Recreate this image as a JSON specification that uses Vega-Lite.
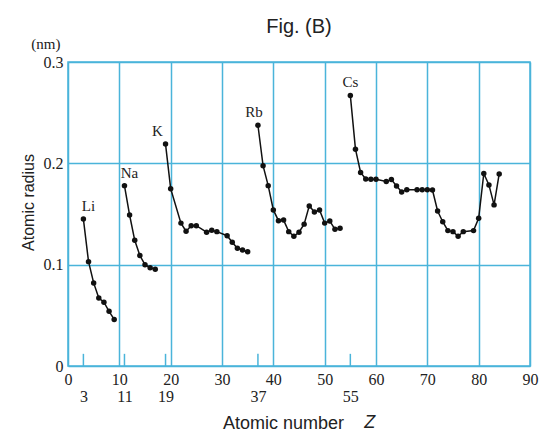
{
  "$schema": "https://vega.github.io/schema/vega-lite/v6.json",
  "autosize": "none",
  "width": 462,
  "height": 304,
  "padding": {"left": 68, "top": 62, "right": 12, "bottom": 68},
  "background": "white",
  "title": {"text": "Fig. (B)", "font": "Liberation Sans", "fontSize": 20, "fontWeight": "normal", "color": "#222", "frame": "group", "anchor": "middle", "offset": 0},
  "config": {"view": {"stroke": "#4ab4da", "strokeWidth": 1.5}},
  "data": {"values": [
    {"Z": 3, "r": 0.145, "g": "Li", "label": "Li"},
    {"Z": 4, "r": 0.103, "g": "Li"},
    {"Z": 5, "r": 0.082, "g": "Li"},
    {"Z": 6, "r": 0.067, "g": "Li"},
    {"Z": 7, "r": 0.063, "g": "Li"},
    {"Z": 8, "r": 0.054, "g": "Li"},
    {"Z": 9, "r": 0.046, "g": "Li"},
    {"Z": 11, "r": 0.178, "g": "Na", "label": "Na"},
    {"Z": 12, "r": 0.149, "g": "Na"},
    {"Z": 13, "r": 0.124, "g": "Na"},
    {"Z": 14, "r": 0.109, "g": "Na"},
    {"Z": 15, "r": 0.100, "g": "Na"},
    {"Z": 16, "r": 0.097, "g": "Na"},
    {"Z": 17, "r": 0.0955, "g": "Na"},
    {"Z": 19, "r": 0.219, "g": "K", "label": "K"},
    {"Z": 20, "r": 0.175, "g": "K"},
    {"Z": 22, "r": 0.141, "g": "K"},
    {"Z": 23, "r": 0.133, "g": "K"},
    {"Z": 24, "r": 0.1385, "g": "K"},
    {"Z": 25, "r": 0.1385, "g": "K"},
    {"Z": 27, "r": 0.132, "g": "K"},
    {"Z": 28, "r": 0.134, "g": "K"},
    {"Z": 29, "r": 0.1326, "g": "K"},
    {"Z": 31, "r": 0.1286, "g": "K"},
    {"Z": 32, "r": 0.1221, "g": "K"},
    {"Z": 33, "r": 0.1162, "g": "K"},
    {"Z": 34, "r": 0.1145, "g": "K"},
    {"Z": 35, "r": 0.1128, "g": "K"},
    {"Z": 37, "r": 0.2376, "g": "Rb", "label": "Rb"},
    {"Z": 38, "r": 0.1977, "g": "Rb"},
    {"Z": 39, "r": 0.178, "g": "Rb"},
    {"Z": 40, "r": 0.154, "g": "Rb"},
    {"Z": 41, "r": 0.1434, "g": "Rb"},
    {"Z": 42, "r": 0.144, "g": "Rb"},
    {"Z": 43, "r": 0.1326, "g": "Rb"},
    {"Z": 44, "r": 0.128, "g": "Rb"},
    {"Z": 45, "r": 0.132, "g": "Rb"},
    {"Z": 46, "r": 0.140, "g": "Rb"},
    {"Z": 47, "r": 0.158, "g": "Rb"},
    {"Z": 48, "r": 0.152, "g": "Rb"},
    {"Z": 49, "r": 0.154, "g": "Rb"},
    {"Z": 50, "r": 0.141, "g": "Rb"},
    {"Z": 51, "r": 0.143, "g": "Rb"},
    {"Z": 52, "r": 0.135, "g": "Rb"},
    {"Z": 53, "r": 0.136, "g": "Rb"},
    {"Z": 55, "r": 0.267, "g": "Cs", "label": "Cs"},
    {"Z": 56, "r": 0.214, "g": "Cs"},
    {"Z": 57, "r": 0.191, "g": "Cs"},
    {"Z": 58, "r": 0.1846, "g": "Cs"},
    {"Z": 59, "r": 0.1843, "g": "Cs"},
    {"Z": 60, "r": 0.1843, "g": "Cs"},
    {"Z": 62, "r": 0.182, "g": "Cs"},
    {"Z": 63, "r": 0.184, "g": "Cs"},
    {"Z": 64, "r": 0.1777, "g": "Cs"},
    {"Z": 65, "r": 0.1718, "g": "Cs"},
    {"Z": 66, "r": 0.174, "g": "Cs"},
    {"Z": 68, "r": 0.174, "g": "Cs"},
    {"Z": 69, "r": 0.174, "g": "Cs"},
    {"Z": 70, "r": 0.174, "g": "Cs"},
    {"Z": 71, "r": 0.1737, "g": "Cs"},
    {"Z": 72, "r": 0.153, "g": "Cs"},
    {"Z": 73, "r": 0.1424, "g": "Cs"},
    {"Z": 74, "r": 0.1336, "g": "Cs"},
    {"Z": 75, "r": 0.1326, "g": "Cs"},
    {"Z": 76, "r": 0.128, "g": "Cs"},
    {"Z": 77, "r": 0.1326, "g": "Cs"},
    {"Z": 79, "r": 0.1336, "g": "Cs"},
    {"Z": 80, "r": 0.1458, "g": "Cs"},
    {"Z": 81, "r": 0.190, "g": "Cs"},
    {"Z": 82, "r": 0.1787, "g": "Cs"},
    {"Z": 83, "r": 0.159, "g": "Cs"},
    {"Z": 84, "r": 0.1895, "g": "Cs"}
  ]},
  "encoding": {
    "x": {"field": "Z", "type": "quantitative",
      "scale": {"domain": [0, 90], "nice": false},
      "axis": {"title": "Atomic number", "values": [0, 3, 10, 11, 19, 20, 30, 37, 40, 50, 55, 60, 70, 80, 90],
        "grid": true, "gridColor": "#4ab4da", "gridWidth": 1.5,
        "gridOpacity": {"condition": {"test": "datum.value % 10 == 0", "value": 1}, "value": 0},
        "ticks": false, "domain": false,
        "labelFont": "Liberation Serif", "labelFontSize": 16, "labelColor": "#222",
        "labelPadding": {"condition": {"test": "datum.value % 10 != 0", "value": 22}, "value": 5},
        "labelFlush": false, "labelOverlap": false,
        "titleFont": "Liberation Sans", "titleFontSize": 18, "titleFontWeight": "normal", "titleColor": "#222",
        "titlePadding": 10, "titleX": 215, "titleAnchor": "middle"}},
    "y": {"field": "r", "type": "quantitative",
      "scale": {"domain": [0, 0.3], "nice": false},
      "axis": {"title": "Atomic radius", "values": [0, 0.1, 0.2, 0.3],
        "labelExpr": "datum.value == 0 ? '0' : format(datum.value, '.1f')",
        "grid": true, "gridColor": "#4ab4da", "gridWidth": 1.5,
        "ticks": false, "domain": false,
        "labelFont": "Liberation Serif", "labelFontSize": 16, "labelColor": "#222", "labelPadding": 5,
        "titleFont": "Liberation Sans", "titleFontSize": 16, "titleFontWeight": "normal", "titleColor": "#222",
        "titlePadding": 7, "titleY": 140, "titleAnchor": "middle"}}
  },
  "layer": [
    {"transform": [{"filter": "isValid(datum.label)"}],
     "mark": {"type": "rule", "color": "#4ab4da", "strokeWidth": 1.5},
     "encoding": {"y": {"datum": 0}, "y2": {"datum": 0.012}}},
    {"mark": {"type": "line", "color": "#111", "strokeWidth": 1.5},
     "encoding": {"detail": {"field": "g", "type": "nominal"}}},
    {"mark": {"type": "point", "filled": true, "color": "#111", "size": 30, "opacity": 1}},
    {"transform": [{"filter": "isValid(datum.label)"}],
     "mark": {"type": "text", "font": "Liberation Serif", "fontSize": 15, "color": "#222", "baseline": "middle", "dy": -13,
       "dx": {"expr": "datum.label == 'K' ? -8 : datum.label == 'Rb' ? -4 : datum.label == 'Cs' ? 0 : 5"}},
     "encoding": {"text": {"field": "label"}}},
    {"transform": [{"filter": "datum.Z == 3"}],
     "mark": {"type": "text", "font": "Liberation Serif", "fontSize": 15, "color": "#222", "baseline": "middle", "align": "center"},
     "encoding": {"x": {"datum": -4.3}, "y": {"datum": 0.318}, "text": {"value": "(nm)"}}},
    {"transform": [{"filter": "datum.Z == 3"}],
     "mark": {"type": "text", "font": "Liberation Sans", "fontSize": 18, "fontStyle": "italic", "color": "#222", "baseline": "middle", "align": "center"},
     "encoding": {"x": {"datum": 58.8}, "y": {"datum": -0.056}, "text": {"value": "Z"}}}
  ]
}
